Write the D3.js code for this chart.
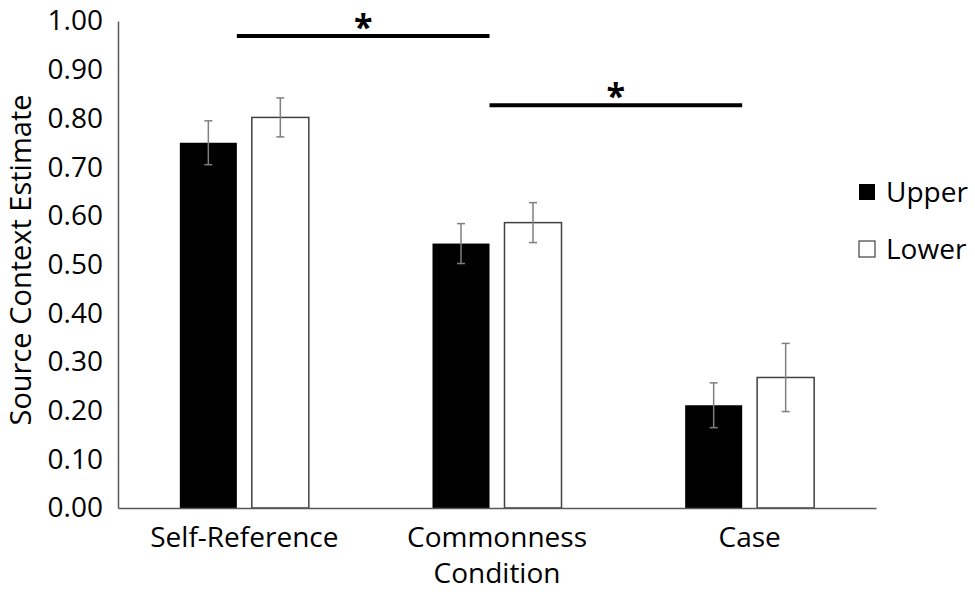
<!DOCTYPE html>
<html><head><meta charset="utf-8">
<script src="https://cdn.jsdelivr.net/npm/d3@7"></script>
<style>body{margin:0;background:#fff;} text{font-family:"Open Sans", sans-serif;}</style>
</head><body>
<svg id="chart" width="975" height="595"></svg>
<script>
const categories = ["Self-Reference", "Commonness", "Case"];
const seriesNames = ["Upper", "Lower"];
const upperValues = [0.75, 0.543, 0.211];
const lowerValues = [0.802, 0.586, 0.268];
const upperErrors = [0.045, 0.041, 0.046];
const lowerErrors = [0.04, 0.041, 0.07];
const yTicks = [0, 0.1, 0.2, 0.3, 0.4, 0.5, 0.6, 0.7, 0.8, 0.9, 1.0];
const sigFrom = ["Self-Reference", "Commonness"];
const sigTo = ["Commonness", "Case"];
const sigLevel = [0.969, 0.827];

(function () {
const svg = d3.select("#chart");
const mLeft = 118, mRight = 876, mTop = 21, mBottom = 508;
const FS = 28;
const x0 = d3.scaleBand().domain(categories).range([mLeft, mRight]).padding(0);
const x1 = d3.scaleBand().domain(seriesNames).range([0, 129]).paddingInner(0.208);
const groupOff = (x0.bandwidth() - 129) / 2;
const y = d3.scaleLinear().domain([0, 1]).range([mBottom, mTop]);
const fills = {Upper: "#000", Lower: "#fff"};

const data = [];
categories.forEach((c, i) => {
  data.push({cat: c, s: "Upper", v: upperValues[i], e: upperErrors[i]});
  data.push({cat: c, s: "Lower", v: lowerValues[i], e: lowerErrors[i]});
});

// y axis
const yAxis = svg.append("g").attr("transform", `translate(${mLeft},0)`)
  .call(d3.axisLeft(y).tickValues(yTicks).tickFormat(d3.format(".2f")).tickSize(0).tickPadding(15));
yAxis.select(".domain").attr("stroke", "#595959").attr("stroke-width", 1.5);
yAxis.selectAll("text").attr("font-size", FS).attr("fill", "#000");

// bars
const bx = d => x0(d.cat) + groupOff + x1(d.s);
svg.append("g").selectAll("rect").data(data).join("rect")
  .attr("x", d => bx(d))
  .attr("y", d => y(d.v))
  .attr("width", x1.bandwidth())
  .attr("height", d => y(0) - y(d.v))
  .attr("fill", d => fills[d.s])
  .attr("stroke", d => d.s === "Upper" ? "none" : "#404040")
  .attr("stroke-width", 1.5);

// x axis
const xAxis = svg.append("g").attr("transform", `translate(0,${mBottom})`)
  .call(d3.axisBottom(x0).tickSize(0).tickPadding(19));
xAxis.select(".domain").attr("stroke", "#595959").attr("stroke-width", 1.5);
xAxis.selectAll("text").attr("font-size", FS).attr("fill", "#000");

// error bars
const eg = svg.append("g").attr("stroke", "#7f7f7f").attr("stroke-width", 1.5);
data.forEach(d => {
  const cx = bx(d) + x1.bandwidth() / 2;
  eg.append("line").attr("x1", cx).attr("x2", cx).attr("y1", y(d.v + d.e)).attr("y2", y(d.v - d.e));
  eg.append("line").attr("x1", cx - 4).attr("x2", cx + 4).attr("y1", y(d.v + d.e)).attr("y2", y(d.v + d.e));
  eg.append("line").attr("x1", cx - 4).attr("x2", cx + 4).attr("y1", y(d.v - d.e)).attr("y2", y(d.v - d.e));
});

// significance
sigFrom.forEach((f, i) => {
  const xa = x0(f) + groupOff + x1("Upper") + x1.bandwidth();
  const xb = x0(sigTo[i]) + groupOff + x1("Upper") + x1.bandwidth();
  const yy = y(sigLevel[i]);
  svg.append("line").attr("x1", xa).attr("x2", xb).attr("y1", yy).attr("y2", yy)
    .attr("stroke", "#000").attr("stroke-width", 4);
  svg.append("text").attr("x", (xa + xb) / 2).attr("y", yy + 3).attr("text-anchor", "middle")
    .attr("font-size", 34).attr("font-weight", "bold").text("*");
});

// axis titles
svg.append("text").attr("x", (mLeft + mRight) / 2).attr("y", 583).attr("text-anchor", "middle")
  .attr("font-size", FS).text("Condition");
svg.append("text").attr("transform", `translate(21,260) rotate(-90)`)
  .attr("dy", "0.35em").attr("text-anchor", "middle").attr("font-size", 29).text("Source Context Estimate");

// legend
const lg = svg.append("g");
seriesNames.forEach((s, i) => {
  const ly = 192 + i * 57;
  lg.append("rect").attr("x", 859).attr("y", ly - 8).attr("width", 16).attr("height", 16)
    .attr("fill", fills[s]).attr("stroke", s === "Upper" ? "none" : "#404040").attr("stroke-width", 1.2);
  lg.append("text").attr("x", 886).attr("y", ly).attr("dy", "0.35em").attr("font-size", FS).text(s);
});
})();
</script>
</body></html>
